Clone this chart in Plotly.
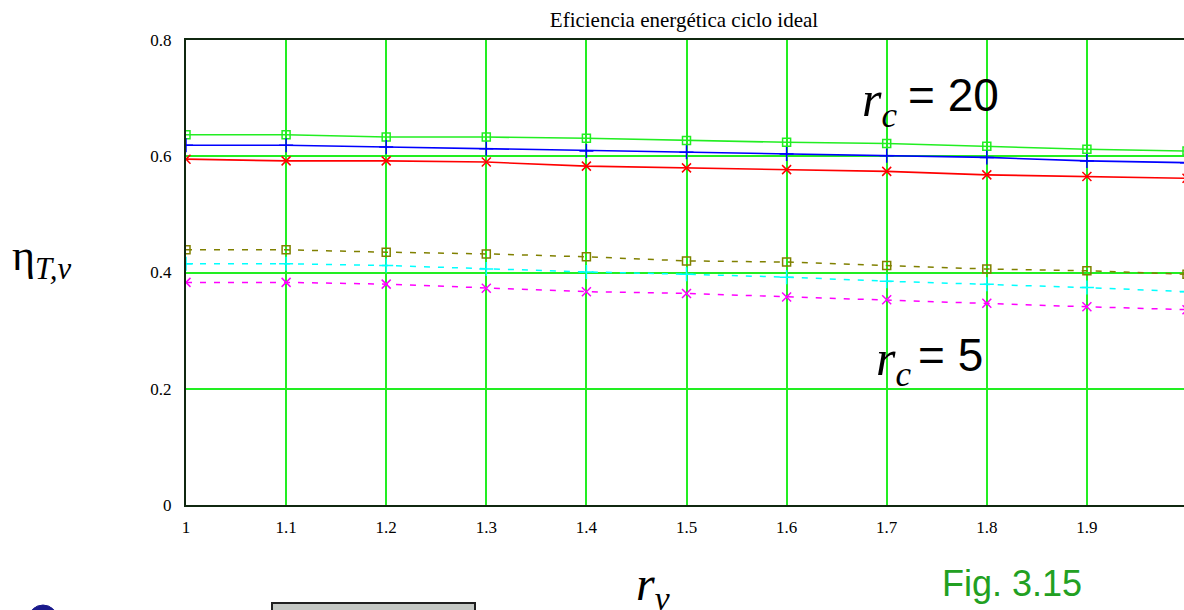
import plotly.graph_objects as go

# ---- data ----
rv = [1.0, 1.1, 1.2, 1.3, 1.4, 1.5, 1.6, 1.7, 1.8, 1.9, 2.0]

eta_rc20_a = [0.637, 0.637, 0.633, 0.633, 0.631, 0.627, 0.624, 0.622, 0.617, 0.612, 0.609]  # green squares
eta_rc20_b = [0.619, 0.619, 0.616, 0.613, 0.609, 0.607, 0.604, 0.601, 0.598, 0.592, 0.589]  # blue plus
eta_rc20_c = [0.595, 0.592, 0.592, 0.590, 0.583, 0.580, 0.577, 0.574, 0.568, 0.565, 0.562]  # red x

eta_rc5_a = [0.439, 0.439, 0.435, 0.432, 0.427, 0.420, 0.418, 0.412, 0.406, 0.403, 0.397]  # olive squares
eta_rc5_b = [0.415, 0.415, 0.412, 0.406, 0.401, 0.397, 0.392, 0.385, 0.380, 0.374, 0.367]  # cyan plus
eta_rc5_c = [0.383, 0.383, 0.380, 0.373, 0.367, 0.364, 0.358, 0.353, 0.347, 0.341, 0.336]  # magenta x

x_ticks = [1, 1.1, 1.2, 1.3, 1.4, 1.5, 1.6, 1.7, 1.8, 1.9]
x_ticklabels = ["1", "1.1", "1.2", "1.3", "1.4", "1.5", "1.6", "1.7", "1.8", "1.9"]
y_ticks = [0, 0.2, 0.4, 0.6, 0.8]
y_ticklabels = ["0", "0.2", "0.4", "0.6", "0.8"]

title_text = "Eficiencia energética ciclo ideal"

# ---- layout geometry (pixels) ----
W, H = 1184, 610
L, R, T, B = 186, 0, 40, 105
PW, PH = W - L - R, H - T - B


def px(x):
    return (x - L) / PW


def py(y):
    return (H - B - y) / PH


GRID = "#22ee22"
SERIF = "Liberation Serif, Times New Roman, serif"
SANS = "Liberation Sans, Arial, sans-serif"

series = [
    (eta_rc20_a, "#22ee22", "solid", "square-open", 8, 1.6),
    (eta_rc20_b, "#0000ff", "solid", "cross-thin", 10, 1.6),
    (eta_rc20_c, "#ff0000", "solid", "x-thin", 9, 1.6),
    (eta_rc5_a, "#808000", "6px,8px", "square-open", 8, 1.5),
    (eta_rc5_b, "#00ffff", "6px,8px", "cross-thin", 10, 1.5),
    (eta_rc5_c, "#ff00ff", "6px,8px", "x-thin", 9, 1.5),
]

fig = go.Figure()
for ys, col, dash, sym, size, lw in series:
    fig.add_trace(go.Scatter(
        x=rv, y=ys, mode="lines+markers",
        line=dict(color=col, width=lw, dash=dash),
        marker=dict(symbol=sym, size=size, color=col,
                    line=dict(color=col, width=1.5)),
        showlegend=False,
    ))

fig.update_layout(
    width=W, height=H,
    margin=dict(l=L, r=R, t=T, b=B),
    paper_bgcolor="white", plot_bgcolor="white",
    title=dict(text=title_text, x=684 / W, xanchor="center", xref="container",
               y=1 - 20 / H, yanchor="middle", yref="container",
               font=dict(family=SERIF, size=21, color="black")),
    showlegend=False,
)

fig.update_xaxes(
    range=[1, 1 + 0.1 * PW / 100.1],
    tickmode="array", tickvals=x_ticks, ticktext=x_ticklabels,
    showgrid=True, gridcolor=GRID, gridwidth=2,
    showline=True, linecolor="#102810", linewidth=2, mirror=True,
    ticks="", ticklabelstandoff=6,
    tickfont=dict(family=SERIF, size=17, color="black"),
    zeroline=False,
)
fig.update_yaxes(
    range=[0, 0.8],
    tickmode="array", tickvals=y_ticks, ticktext=y_ticklabels,
    showgrid=True, gridcolor=GRID, gridwidth=2,
    showline=True, linecolor="#102810", linewidth=2, mirror=False,
    ticks="", ticklabelstandoff=9,
    tickfont=dict(family=SERIF, size=17, color="black"),
    zeroline=False,
)


def ann(x, y, text, font, xanchor="left", yanchor="middle"):
    return dict(x=px(x), y=py(y), xref="paper", yref="paper", text=text,
                showarrow=False, xanchor=xanchor, yanchor=yanchor, font=font)


annotations = [
    # y axis title
    ann(10, 258, "η<sub><i>T,v</i></sub>", dict(family=SERIF, size=44, color="black")),
    # x axis title
    ann(634, 587, "<i>r<sub>v</sub></i>", dict(family=SERIF, size=48, color="black")),
    # rc = 20
    ann(860, 103, "<i>r<sub>c</sub></i>", dict(family=SERIF, size=50, color="black")),
    ann(906, 95, "= 20", dict(family=SANS, size=46, color="black")),
    # rc = 5
    ann(874, 362, "<i>r<sub>c</sub></i>", dict(family=SERIF, size=50, color="black")),
    ann(916, 355, "= 5", dict(family=SANS, size=46, color="black")),
    # figure label
    ann(1012, 583, "Fig. 3.15", dict(family=SANS, size=36, color="#22a022"), xanchor="center"),
]
fig.update_layout(annotations=annotations)

# white boxes behind the r_c labels (interrupt the grid, not the curves)
for y0, y1 in [(60, 123), (322, 386)]:
    fig.add_shape(type="rect", xref="paper", yref="paper", layer="between",
                  x0=px(845), x1=px(1020), y0=py(y1), y1=py(y0),
                  fillcolor="white", line=dict(width=0))

# cropped logo slivers at the bottom-left edge
fig.add_shape(type="rect", xref="paper", yref="paper",
              x0=px(272), x1=px(475), y0=py(615), y1=py(603),
              fillcolor="#c4c8c4", line=dict(color="#202020", width=2))
fig.add_shape(type="circle", xref="paper", yref="paper",
              x0=px(28), x1=px(58), y0=py(636), y1=py(605),
              fillcolor="#1a1a8c", line=dict(color="#1a1a8c", width=1))

fig.write_html("out.html",
               config={"displayModeBar": False},
               post_script="document.body.style.margin='0';document.body.style.overflow='hidden';")
